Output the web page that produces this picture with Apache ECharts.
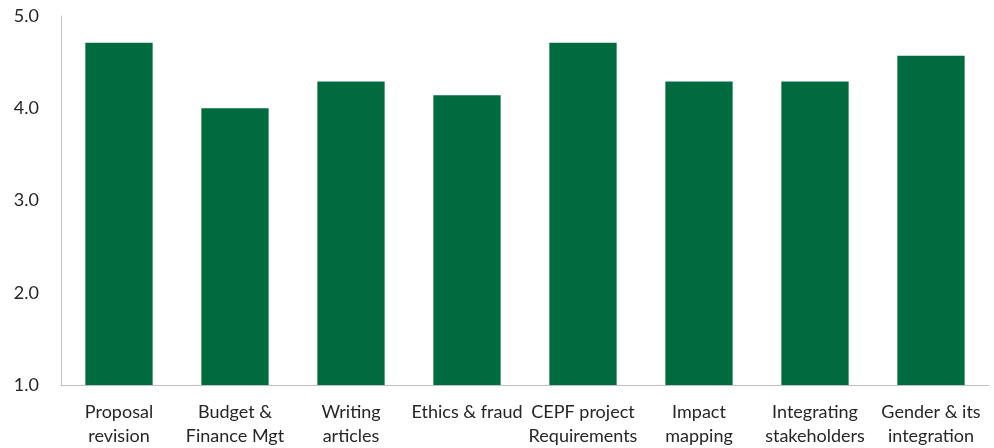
<!DOCTYPE html>
<html><head><meta charset="utf-8">
<script src="https://cdn.jsdelivr.net/npm/echarts@6/dist/echarts.min.js"></script>
<style>html,body{margin:0;padding:0;background:#fff}#c{width:994px;height:448px}</style>
</head><body><div id="c"></div>
<script>
const categories = ["Proposal\nrevision","Budget &\nFinance Mgt","Writing\narticles","Ethics & fraud","CEPF project\nRequirements","Impact\nmapping","Integrating\nstakeholders","Gender & its\nintegration"];
const values = [4.71, 4.00, 4.29, 4.14, 4.71, 4.29, 4.29, 4.57];
const yMin = 1, yMax = 5, yStep = 1;
const chart = echarts.init(document.getElementById('c'));
chart.setOption({
  animation: false,
  grid: {left: 61, right: 5, top: 16, bottom: 63},
  xAxis: {
    type: 'category', data: categories,
    axisLine: {lineStyle: {color: '#bfbfbf', width: 1}},
    axisTick: {show: false},
    axisLabel: {interval: 0, color: '#262626', fontFamily: 'Lato', fontSize: 18, lineHeight: 24, margin: 15}
  },
  yAxis: {
    type: 'value', min: yMin, max: yMax, interval: yStep,
    axisLine: {show: true, lineStyle: {color: '#bfbfbf', width: 1}},
    axisTick: {show: false},
    splitLine: {show: false},
    axisLabel: {color: '#262626', fontFamily: 'Lato', fontSize: 18, margin: 22, formatter: v => v.toFixed(1)}
  },
  series: [{type: 'bar', data: values, barWidth: '58%', itemStyle: {color: '#006B3F'}}]
});
</script></body></html>
